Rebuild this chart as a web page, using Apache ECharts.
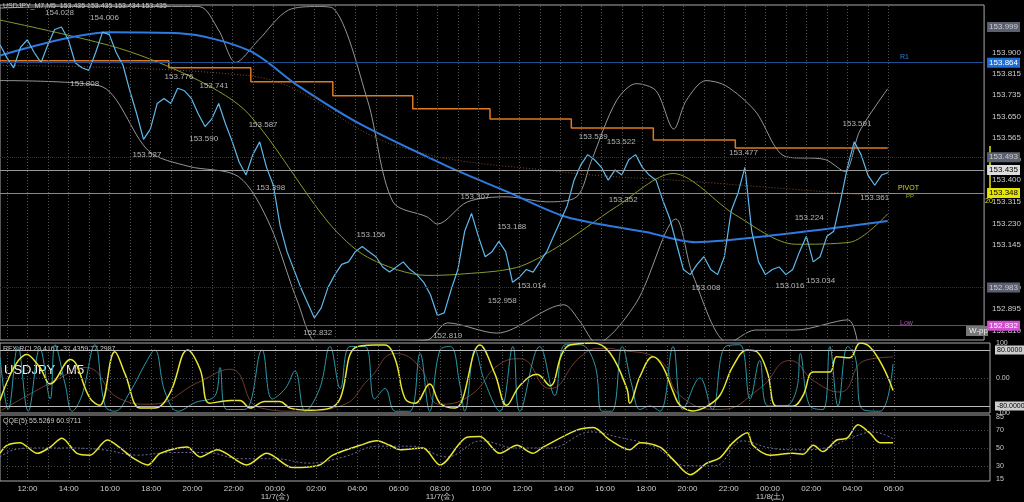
<!DOCTYPE html>
<html>
<head>
<meta charset="utf-8">
<script src="https://cdn.jsdelivr.net/npm/echarts@6/dist/echarts.min.js"></script>
<style>html,body{margin:0;padding:0;background:#000;}#chart{width:1024px;height:502px;}</style>
</head>
<body>
<div id="chart"></div>
<script>
// x unit: 20-minute bar index, 0 = 10:40 (11/6)
var priceClose = [153.93,153.88,153.84,153.92,153.95,153.90,153.86,153.93,153.99,154.00,153.95,153.86,153.84,153.83,153.90,153.98,153.97,153.90,153.85,153.75,
  153.66,153.56,153.60,153.70,153.72,153.70,153.76,153.75,153.72,153.66,153.61,153.64,153.70,153.62,153.55,153.47,153.42,153.50,153.55,153.45,
  153.38,153.22,153.12,153.05,152.98,152.92,152.86,152.90,152.98,153.03,153.07,153.08,153.12,153.14,153.12,153.10,153.06,153.04,153.06,153.08,
  153.05,153.03,153.00,152.95,152.87,152.88,152.97,153.05,153.20,153.27,153.18,153.10,153.12,153.16,153.12,153.00,153.02,153.05,153.04,153.08,
  153.12,153.18,153.24,153.30,153.40,153.46,153.50,153.48,153.45,153.40,153.44,153.42,153.48,153.50,153.45,153.42,153.40,153.32,153.25,153.15,
  153.05,153.03,153.07,153.10,153.05,153.03,153.10,153.28,153.35,153.45,153.20,153.08,153.03,153.05,153.06,153.03,153.05,153.12,153.18,153.08,
  153.10,153.18,153.20,153.32,153.45,153.55,153.50,153.42,153.38,153.42,153.43];
var maBlue = [[0,153.888],[16,153.979],[26.2,153.975],[36.4,153.908],[43.6,153.770],[52.4,153.624],[65.5,153.454],[74.2,153.355],[82.9,153.256],[94.5,153.197],[101.8,153.157],[113.5,153.185],[129.9,153.240]];
var maOlive = [[0,154.027],[17.5,153.916],[29.1,153.790],[36.4,153.659],[48,153.236],[53.8,153.098],[62.5,153.027],[66.9,153.031],[75.6,153.058],[81.5,153.137],[90.2,153.296],[98.5,153.426],[107.6,153.264],[116.4,153.149],[124.4,153.157],[129.9,153.268]];
var maDotted = [[0,153.849],[36.4,153.809],[58.2,153.533],[81.5,153.434],[101.8,153.394],[129.9,153.335]];
var pivotStep = [[0,153.868],[24.7,153.840],[36.7,153.785],[48.7,153.731],[60.4,153.680],[71.7,153.640],[83.6,153.604],[95.6,153.557],[107.6,153.526],[129.9,153.526]];
var bandUpper = [[0,154.074],[8.7,154.080],[29.1,154.080],[32,153.987],[34.5,153.861],[37.8,153.948],[42.2,154.066],[46.5,154.080],[48.7,154.074],[53.8,153.711],[57.5,153.315],[62.5,153.256],[64,153.228],[68.4,153.315],[74.2,153.335],[80,153.315],[84.4,153.335],[86.5,153.473],[90.2,153.711],[93.1,153.778],[96,153.750],[98.6,153.600],[100.4,153.711],[103.3,153.790],[106.2,153.770],[110.5,153.671],[114.9,153.493],[120.7,153.481],[123.6,153.434],[125.8,153.592],[129.9,153.758]];
var bandLower = [[0,153.790],[14.5,153.770],[21.8,153.513],[27.6,153.454],[34.9,153.414],[39.3,153.236],[43.6,152.920],[46.5,152.762],[50.9,152.762],[62.5,152.774],[65.5,152.841],[72.7,152.801],[82.5,152.912],[84.8,152.849],[87.3,152.762],[93.1,152.920],[98.9,153.248],[101.4,153.027],[106.6,152.762],[110.5,152.813],[116.4,152.813],[124.1,152.853],[125.5,152.762]];
var highs = [[8.7,154.028],[15.3,154.006],[26.2,153.776],[31.3,153.741],[38.5,153.587],[54.3,153.156],[69.5,153.307],[74.9,153.188],[86.8,153.539],[90.9,153.522],[108.8,153.477],[118.4,153.224],[125.4,153.591]];
var lows = [[12.4,153.808],[21.5,153.527],[29.8,153.590],[39.6,153.398],[46.5,152.832],[65.5,152.819],[73.5,152.958],[77.8,153.014],[91.2,153.352],[103.3,153.008],[115.6,153.016],[120.1,153.034],[128,153.361]];
var priceTicks = [152.810,152.895,152.980,153.145,153.230,153.315,153.400,153.480,153.565,153.650,153.735,153.815,153.900];

var rciYellow = [[0,-64],[3.9,67],[5.8,30],[7.3,-17],[10.2,53],[13.1,-58],[14.5,-78],[16.7,75],[18.2,11],[20.4,-86],[22.5,-86],[24.7,-44],[27.3,80],[29.1,25],[30.5,-72],[33.5,-64],[34.9,-64],[36.4,-86],[38.5,-67],[40.7,-67],[42.2,-86],[45.1,-92],[48,-86],[49.5,-58],[51.6,86],[54.5,94],[56,94],[57.5,53],[58.9,-58],[60.4,-72],[62.5,-17],[64,-72],[66.2,-86],[69.8,94],[72,11],[73.7,-78],[75.6,-22],[78.1,11],[80,-22],[81.7,67],[82.9,94],[86.3,100],[88.7,72],[91.2,-31],[91.6,-72],[93.1,5],[95,61],[96.4,33],[97.9,-39],[98.9,-78],[100.8,-94],[102.8,-81],[104.7,-50],[106.6,33],[108.7,80],[110.1,75],[111.6,17],[113,-81],[115.3,-81],[116.8,-50],[118.3,17],[120.7,17],[121.7,61],[123.6,58],[125.1,100],[126.5,89],[128.4,33],[129.9,-36]];
var rciTeal = [[0,60],[1.2,-90],[2.6,90],[4.1,-95],[5.8,85],[7.3,-60],[8,95],[9.5,-20],[10.5,-95],[11.9,-50],[13.8,95],[15.3,-80],[16.7,-95],[18.9,-40],[21.1,40],[22.5,80],[24,-40],[25.9,-95],[28.4,-70],[31.3,-50],[32,30],[33,-90],[35.6,-90],[38.1,80],[39.6,-60],[41.5,-30],[42.9,20],[44.4,-95],[46.5,-30],[48,90],[49.5,-30],[50.9,90],[53.1,90],[54.5,-60],[56,-30],[57.5,-95],[59.6,-95],[61.1,70],[62.5,-95],[64,80],[65.5,90],[66.9,-20],[67.6,-95],[69.1,80],[70.5,-10],[72.7,-95],[74.6,90],[75.6,-95],[78.5,90],[80.7,-50],[82.2,95],[84.4,95],[86.5,40],[87.6,-95],[89,-95],[90.5,90],[91.9,-20],[93.1,-90],[94.5,-80],[96,-95],[97.9,90],[99.3,-90],[101.8,0],[103.6,-90],[105.5,90],[107.6,95],[109.1,-60],[110.5,50],[111.7,-80],[114.2,-80],[115.9,-30],[116.4,70],[117.8,-80],[119.7,-90],[120.7,90],[121.9,-80],[123.3,90],[124.4,60],[125.5,-90],[128,-95],[129.9,40]];
var rciBrown = [[0,-95],[8.7,0],[12.4,30],[17.5,-60],[21.8,-75],[29.1,-10],[33.5,25],[37.8,-85],[43.6,-95],[49.5,-80],[53.8,0],[57.5,70],[61.1,30],[64,-75],[68.4,-50],[72.7,40],[75.6,55],[80,-30],[84.4,60],[87.3,85],[90.2,80],[96,50],[98.9,-50],[104.7,-90],[110.5,-30],[114.9,50],[118.5,-10],[122.2,-40],[125.8,50],[129.9,60]];
var qqeFast = [[0,44],[1,53],[2.9,56],[5.4,44],[7.3,51],[9,61],[11.2,44],[13.1,42],[15.6,59],[17.5,50],[19.3,39],[21.5,31],[23.3,44],[27.2,51],[29.1,40],[31.6,48],[35.9,31],[38.8,44],[42.6,28],[46.5,31],[48.4,42],[52.4,53],[54.8,58],[56.7,53],[58.2,48],[61.5,50],[64,31],[67.9,62],[69.8,63],[72.7,44],[75.2,53],[77.5,44],[79,51],[83.9,70],[86.3,73],[88.7,59],[91.6,48],[93.1,56],[96,51],[97.9,37],[100.4,20],[102.8,33],[104.7,39],[106.6,56],[108.7,67],[109.5,53],[112,42],[115.3,44],[116.8,43],[118.3,53],[119.7,46],[121.7,59],[123.2,61],[124.8,76],[126.5,67],[128,56],[129.9,56]];
var qqeSlow = [[0,40],[2,48],[5,50],[10,50],[15,48],[20,42],[25,45],[30,45],[35,38],[40,38],[45,33],[50,40],[55,52],[60,52],[65,40],[70,58],[75,50],[80,50],[86,68],[90,62],[95,52],[100,30],[104,30],[108,58],[112,50],[116,48],[120,50],[124,62],[127,68],[130,60]];
var qqeTicks = [15,30,50,70,85];

function barTime(i) {
  var m = 10 * 60 + 40 + i * 20;
  var h = Math.floor(m / 60) % 24, mm = m % 60;
  return (h < 10 ? '0' : '') + h + ':' + (mm < 10 ? '0' : '') + mm;
}
var timeTicks = [];
for (var t = 4; t <= 131; t += 6) timeTicks.push(t);
var hourLines = [];
for (var t2 = 1; t2 <= 131; t2 += 3) hourLines.push({xAxis: t2});

var chart = echarts.init(document.getElementById('chart'));
var grids = [
  {left: 0, right: 34, top: 5, height: 335},
  {left: 0, right: 34, top: 343, height: 70},
  {left: 0, right: 34, top: 415, height: 66}
];
grids.forEach(function (g) { g.show = true; g.borderColor = '#aaa'; g.borderWidth = 1; g.backgroundColor = '#000'; });

function xAx(i, show) {
  return {type: 'value', gridIndex: i, min: 0, max: 144, splitLine: {show: false},
    axisLine: {show: false}, axisTick: {show: false},
    axisLabel: show ? {customValues: timeTicks, color: '#ccc', fontSize: 8, margin: 4,
      formatter: function (v) {
        var s = barTime(v);
        if (v === 40) s += '\n11/7(金)';
        if (v === 64) s += '\n11/7(金)';
        if (v === 112) s += '\n11/8(土)';
        return s;
      }} : {show: false}};
}
function lineS(name, data, color, width, xi, extra) {
  var s = {name: name, type: 'line', data: data, xAxisIndex: xi, yAxisIndex: xi, showSymbol: false,
    smooth: false, lineStyle: {color: color, width: width}, silent: true, z: 3};
  return Object.assign(s, extra || {});
}
function levelLine(v, lineColor, bg, txt, type) {
  return {yAxis: v, lineStyle: {color: lineColor, width: 1, type: type || 'solid'},
    label: {show: true, position: 'end', formatter: v.toFixed(3), backgroundColor: bg, color: txt,
      fontSize: 8, padding: [1, 2], distance: 3}};
}
var gridMarks = function (xi) {
  return {type: 'line', data: [], xAxisIndex: xi, yAxisIndex: xi, silent: true,
    markLine: {symbol: 'none', silent: true, label: {show: false},
      lineStyle: {color: '#555', type: [1, 2], width: 1}, data: hourLines}};
};
var ptLabel = function (pos) {
  return {show: true, position: pos, distance: 3, color: '#ddd', fontSize: 8,
    formatter: function (p) { return p.value[1].toFixed(3); }};
};

chart.setOption({
  backgroundColor: '#000',
  animation: false,
  grid: grids,
  xAxis: [xAx(0, false), xAx(1, false), xAx(2, true)],
  yAxis: [
    {type: 'value', gridIndex: 0, position: 'right', min: 152.774, max: 154.086, splitLine: {show: false},
      axisLine: {show: false}, axisTick: {show: false},
      axisLabel: {customValues: priceTicks, color: '#ccc', fontSize: 8, margin: 8,
        formatter: function (v) { return v.toFixed(3); }}},
    {type: 'value', gridIndex: 1, position: 'right', min: -100, max: 100, splitLine: {show: false},
      axisLine: {show: false}, axisTick: {show: false},
      axisLabel: {customValues: [100, 0, -100], color: '#ccc', fontSize: 7, margin: 6,
        formatter: function (v) { return v === 0 ? '0.00' : String(v); }}},
    {type: 'value', gridIndex: 2, position: 'right', min: 13, max: 87, splitLine: {show: false},
      axisLine: {show: false}, axisTick: {show: false},
      axisLabel: {customValues: qqeTicks, color: '#ccc', fontSize: 7, margin: 6}}
  ],
  series: [
    gridMarks(0), gridMarks(1), gridMarks(2),
    lineS('upper', bandUpper, '#bbb', 0.8, 0, {smooth: 0.3}),
    lineS('lower', bandLower, '#bbb', 0.8, 0, {smooth: 0.3}),
    lineS('madot', maDotted, '#a0603a', 0.8, 0, {smooth: 0.4, lineStyle: {color: '#a0603a', width: 0.8, type: [1, 2]}}),
    lineS('pivot', pivotStep, '#e07a1f', 1.5, 0, {step: 'end'}),
    lineS('olive', maOlive, '#8a9a2a', 1, 0, {smooth: 0.3}),
    lineS('blue', maBlue, '#2f7ae0', 2, 0, {smooth: 0.3}),
    {type: 'line', name: 'price', xAxisIndex: 0, yAxisIndex: 0, showSymbol: false, silent: true, z: 4,
      data: priceClose.map(function (v, i) { return [i, v]; }),
      lineStyle: {color: '#5fb8ec', width: 1.2},
      markLine: {symbol: 'none', silent: true, data: [
        levelLine(153.864, '#1e4f95', '#1e6fd9', '#fff'),
        levelLine(153.435, '#999', '#ddd', '#000'),
        levelLine(153.348, '#9a9a10', '#e6e600', '#000'),
        levelLine(152.832, '#8a3a8a', '#d050d0', '#fff'),
        levelLine(153.999, 'rgba(0,0,0,0)', '#5a6070', '#ccc'),
        levelLine(153.493, '#333', '#5a6070', '#ccc', 'dotted'),
        levelLine(152.983, '#333', '#5a6070', '#ccc', 'dotted')
      ]}},
    {type: 'scatter', xAxisIndex: 0, yAxisIndex: 0, data: highs, symbolSize: 1, itemStyle: {color: 'rgba(0,0,0,0)'}, label: ptLabel('top'), silent: true, z: 6},
    {type: 'scatter', xAxisIndex: 0, yAxisIndex: 0, data: lows, symbolSize: 1, itemStyle: {color: 'rgba(0,0,0,0)'}, label: ptLabel('bottom'), silent: true, z: 6},
    lineS('rciBrown', rciBrown, '#8a4a3a', 0.8, 1, {smooth: 0.5}),
    lineS('rciTeal', rciTeal, '#2a9aa8', 1, 1, {smooth: 0.4}),
    lineS('rciYellow', rciYellow, '#e8e830', 1.5, 1, {smooth: 0.4,
      markLine: {symbol: 'none', silent: true, data: [
        {yAxis: 80, lineStyle: {color: '#bbb', width: 1, type: 'solid'}, label: {show: true, position: 'end', formatter: '80.0000', backgroundColor: '#ccc', color: '#000', fontSize: 7, padding: [1, 2]}},
        {yAxis: -80, lineStyle: {color: '#bbb', width: 1, type: 'solid'}, label: {show: true, position: 'end', formatter: '-80.0000', backgroundColor: '#ccc', color: '#000', fontSize: 7, padding: [1, 2]}},
        {yAxis: 0, lineStyle: {color: '#445', width: 1, type: [1, 2]}, label: {show: false}}
      ]}}),
    lineS('qqeSlow', qqeSlow, '#8888cc', 0.8, 2, {smooth: 0.4, lineStyle: {color: '#8888cc', width: 0.8, type: [2, 2]},
      markLine: {symbol: 'none', silent: true, label: {show: false},
        lineStyle: {color: '#445', width: 1, type: [1, 2]}, data: [{yAxis: 70}, {yAxis: 50}, {yAxis: 30}]}}),
    lineS('qqeFast', qqeFast, '#e8e830', 1.5, 2, {smooth: 0.3})
  ],
  graphic: [
    {type: 'text', left: 3, top: 3, style: {text: 'USDJPY_M7,M5  153.435 153.435 153.434 153.435', fill: '#ccc', font: '7px sans-serif'}},
    {type: 'text', left: 900, top: 54, style: {text: 'R1', fill: '#3a7ad8', font: '7px sans-serif'}},
    {type: 'text', left: 898, top: 185, style: {text: 'PIVOT', fill: '#d8d820', font: '7px sans-serif'}},
    {type: 'text', left: 906, top: 193, style: {text: 'PP', fill: '#8aa82a', font: '6px sans-serif'}},
    {type: 'text', left: 900, top: 320, style: {text: 'Low', fill: '#b050b0', font: '7px sans-serif'}},
    {type: 'rect', left: 966, top: 326, shape: {width: 22, height: 10}, style: {fill: '#777'}},
    {type: 'text', left: 969, top: 327, style: {text: 'W-pp', fill: '#eee', font: '8px sans-serif'}},
    {type: 'line', shape: {x1: 990, y1: 146, x2: 990, y2: 196}, style: {stroke: '#e6e600', lineWidth: 1.5}},
    {type: 'text', left: 985, top: 198, style: {text: '20', fill: '#e6e600', font: '7px sans-serif'}},
    {type: 'text', left: 3, top: 346, style: {text: 'RFX-RCI 20.4167 -37.4359 77.2987', fill: '#ccc', font: '7px sans-serif'}},
    {type: 'text', left: 4, top: 364, style: {text: 'USDJPY , M5', fill: '#eee', font: '13px sans-serif'}},
    {type: 'text', left: 3, top: 418, style: {text: 'QQE(5) 55.5269 60.9711', fill: '#ccc', font: '7px sans-serif'}}
  ]
});
</script>
</body>
</html>
